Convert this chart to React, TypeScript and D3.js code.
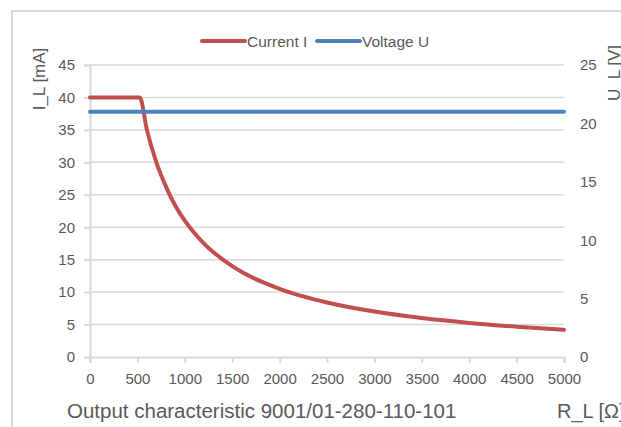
import React, { useEffect, useRef } from "react";
import * as d3 from "d3";

// R_L [Ω] sample points, with current I_L [mA]
const resistance = [0, 500, 525, 600, 700, 800, 900, 1000, 1200, 1500, 2000, 2500, 3000, 3500, 4000, 4500, 5000];
const currentI = [40, 40, 40, 35, 30, 26.3, 23.3, 21, 17.5, 14, 10.5, 8.4, 7, 6, 5.25, 4.67, 4.2];

// voltage U_L [V] stays flat
const voltageR = [0, 5000];
const voltageU = [21, 21];

const xTicks = [0, 500, 1000, 1500, 2000, 2500, 3000, 3500, 4000, 4500, 5000];
const leftTicks = [0, 5, 10, 15, 20, 25, 30, 35, 40, 45];
const rightTicks = [0, 5, 10, 15, 20, 25];

const seriesNames = ["Current I", "Voltage U"];
const seriesColors = ["#C0504D", "#4F81BD"];

const FONT = "'Liberation Sans', Arial, sans-serif";
const TEXT = "#595959";
const GRID = "#d9d9d9";

const App: React.FC = () => {
  const svgRef = useRef<SVGSVGElement | null>(null);

  useEffect(() => {
    if (!svgRef.current) return;
    const width = 621;
    const height = 427;

    const svg = d3.select(svgRef.current);
    svg.selectAll("*").remove();
    svg.attr("width", width).attr("height", height);

    /* frame */
    svg
      .append("rect")
      .attr("x", 12)
      .attr("y", 11)
      .attr("width", 700)
      .attr("height", 500)
      .attr("fill", "#fff")
      .attr("stroke", GRID)
      .attr("stroke-width", 2);

    const x = d3.scaleLinear().domain([0, 5000]).range([90, 564]);
    const yL = d3.scaleLinear().domain([0, 45]).range([357, 65]);
    const yR = d3.scaleLinear().domain([0, 25]).range([357, 65]);

    /* grid */
    svg
      .append("g")
      .selectAll("line")
      .data(leftTicks.filter((d) => d > 0))
      .enter()
      .append("line")
      .attr("x1", x(0))
      .attr("x2", x(5000))
      .attr("y1", (d) => yL(d))
      .attr("y2", (d) => yL(d))
      .attr("stroke", GRID)
      .attr("stroke-width", 1.5);

    /* left axis */
    const left = svg
      .append("g")
      .attr("transform", `translate(${x(0)},0)`)
      .call(d3.axisLeft(yL).tickValues(leftTicks).tickSize(6).tickPadding(9));
    left.select(".domain").attr("stroke", GRID).attr("stroke-width", 2);
    left.selectAll(".tick line").attr("stroke", GRID).attr("stroke-width", 2);
    left
      .selectAll(".tick text")
      .attr("fill", TEXT)
      .attr("font-family", FONT)
      .attr("font-size", 15);

    /* bottom axis */
    const bottom = svg
      .append("g")
      .attr("transform", `translate(0,${yL(0)})`)
      .call(d3.axisBottom(x).tickValues(xTicks).tickFormat(d3.format("d")).tickSize(6).tickPadding(10));
    bottom.select(".domain").attr("stroke", GRID).attr("stroke-width", 2);
    bottom.selectAll(".tick line").attr("stroke", GRID).attr("stroke-width", 2);
    bottom
      .selectAll(".tick text")
      .attr("fill", TEXT)
      .attr("font-family", FONT)
      .attr("font-size", 15);

    /* right axis (labels only) */
    const right = svg
      .append("g")
      .attr("transform", `translate(${x(5000)},0)`)
      .call(d3.axisRight(yR).tickValues(rightTicks).tickSize(0).tickPadding(16));
    right.select(".domain").remove();
    right
      .selectAll(".tick text")
      .attr("fill", TEXT)
      .attr("font-family", FONT)
      .attr("font-size", 15);

    /* series */
    const currentLine = d3
      .line<number>()
      .x((_, i) => x(resistance[i]))
      .y((d) => yL(d))
      .curve(d3.curveMonotoneX);
    const voltageLine = d3
      .line<number>()
      .x((_, i) => x(voltageR[i]))
      .y((d) => yR(d));

    svg
      .append("path")
      .datum(currentI)
      .attr("d", currentLine)
      .attr("fill", "none")
      .attr("stroke", seriesColors[0])
      .attr("stroke-width", 4)
      .attr("stroke-linejoin", "round")
      .attr("stroke-linecap", "round");

    svg
      .append("path")
      .datum(voltageU)
      .attr("d", voltageLine)
      .attr("fill", "none")
      .attr("stroke", seriesColors[1])
      .attr("stroke-width", 4)
      .attr("stroke-linecap", "round");

    /* legend */
    const legendX = [202, 317];
    const legend = svg
      .append("g")
      .selectAll("g")
      .data(seriesNames)
      .enter()
      .append("g")
      .attr("transform", (_, i) => `translate(${legendX[i]},41)`);
    legend
      .append("line")
      .attr("x1", 0)
      .attr("x2", 43)
      .attr("stroke", (_, i) => seriesColors[i])
      .attr("stroke-width", 4)
      .attr("stroke-linecap", "round");
    legend
      .append("text")
      .attr("x", 45)
      .attr("y", 6)
      .attr("fill", TEXT)
      .attr("font-family", FONT)
      .attr("font-size", 15.5)
      .text((d) => d);

    /* axis titles */
    svg
      .append("text")
      .attr("transform", "translate(45,79) rotate(-90)")
      .attr("text-anchor", "middle")
      .attr("fill", TEXT)
      .attr("font-family", FONT)
      .attr("font-size", 17)
      .text("I_L [mA]");

    svg
      .append("text")
      .attr("transform", "translate(620,73) rotate(-90)")
      .attr("text-anchor", "middle")
      .attr("fill", TEXT)
      .attr("font-family", FONT)
      .attr("font-size", 17)
      .text("U_L [V]");

    svg
      .append("text")
      .attr("x", 557)
      .attr("y", 418)
      .attr("fill", TEXT)
      .attr("font-family", FONT)
      .attr("font-size", 20)
      .text("R_L [Ω]");

    svg
      .append("text")
      .attr("x", 67)
      .attr("y", 418)
      .attr("fill", TEXT)
      .attr("font-family", FONT)
      .attr("font-size", 20.5)
      .text("Output characteristic 9001/01-280-110-101");
  }, []);

  return (
    <svg
      ref={svgRef}
      style={{ position: "absolute", left: 0, top: 0, display: "block" }}
    />
  );
};

export default App;
